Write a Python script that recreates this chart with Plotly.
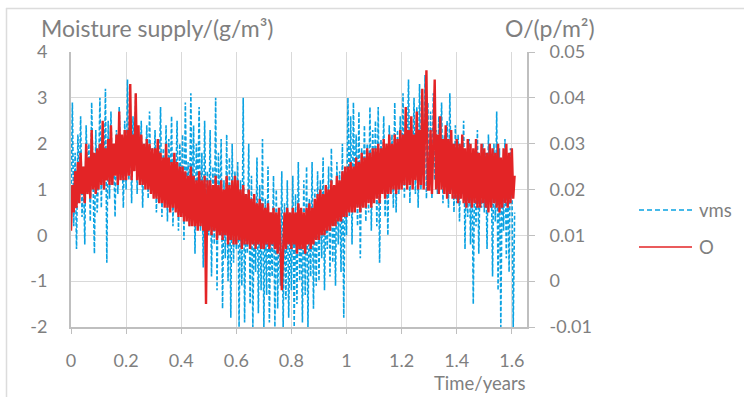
import plotly.graph_objects as go

# Sampling interval of the record (years)
STEP = 0.005

# Moisture supply vms, g/m³ (left axis)
vms = [
    0.6, 2.9, 0.2, 1.8, -0.3, 2.2, 0.9, 2.6, 0.4, 1.5, -0.2, 2.4, 1.0, 2.0, 0.3, 2.9, 1.2, -0.4, 2.3, 0.5,
    1.3, 3.0, 0.6, 2.1, 1.0, 3.2, -0.6, 2.5, 0.8, 2.7, 1.1, 1.8, 0.4, 2.3, 0.9, 2.8, 1.2, 2.0, 0.6, 2.5,
    1.0, 3.4, 1.2, 2.9, 0.7, 2.6, 1.5, 3.1, 0.9, 2.2, 1.3, 2.5, 0.6, 2.0, 1.1, 2.4, 0.8, 2.7, 1.0, 1.9,
    0.9, 2.3, 0.5, 2.0, 1.2, 2.8, 0.4, 1.9, 0.8, 2.4, 0.3, 2.1, 1.0, 2.6, 0.2, 1.7, 0.9, 2.5, 0.1, 2.0,
    0.6, 2.2, -0.1, 2.9, 0.8, 1.6, 0.2, 3.1, 0.5, 2.4, -0.4, 2.0, 0.7, 2.8, 0.1, 1.8, -0.7, 2.5, 0.3, 1.4,
    0.0, 2.3, -0.9, 1.5, -0.2, 3.0, -1.2, 1.8, 0.3, 2.1, -1.6, 1.2, -0.5, 2.2, -1.0, 1.7, -1.8, 2.0, -0.6, 1.4,
    -0.3, 1.6, -2.0, 1.2, -1.1, 3.0, -1.9, 0.9, -0.4, 2.0, -1.5, 1.3, -2.0, 0.6, -0.8, 1.7, -1.7, 1.1, -1.2, 2.1,
    -2.0, 0.8, -1.3, 1.5, -1.9, 0.4, -0.9, 1.3, -2.0, 1.0, -1.6, 0.6, -1.1, 1.4, -2.0, 0.7, -1.4, 1.2, -1.8, 0.3,
    -1.2, 1.3, -2.0, 0.9, -1.5, 1.6, -1.0, 0.5, -1.9, 1.2, -1.3, 1.5, -2.0, 0.8, -0.9, 1.6, -1.6, 1.0, -1.1, 1.4,
    -1.0, 1.2, -0.5, 1.7, -1.2, 0.8, -0.3, 1.5, -0.9, 1.9, -0.6, 1.1, -1.1, 1.6, -0.2, 1.4, -0.8, 2.0, -1.8, 1.3,
    0.0, 3.0, 0.4, 2.6, -0.2, 2.9, 0.6, 2.2, 0.2, 2.7, -0.5, 1.9, 0.7, 2.4, 0.3, 2.0, 0.5, 2.8, 0.1, 2.3,
    0.8, 2.5, 0.2, 2.8, -0.6, 2.1, 0.9, 2.6, 0.4, 1.9, 0.0, 2.4, 1.0, 2.2, 0.6, 2.9, 0.5, 2.3, 0.9, 2.6,
    1.1, 3.1, 0.8, 2.7, 1.3, 3.4, 0.7, 2.5, 1.2, 3.0, 0.9, 2.8, 0.6, 3.3, 1.0, 2.4, 1.4, 3.5, 0.8, 2.9,
    1.0, 2.7, 0.8, 3.1, 1.2, 2.3, 0.9, 2.6, 1.4, 2.9, 0.7, 2.2, 1.1, 2.5, 0.6, 3.1, 1.0, 2.0, 0.5, 2.4,
    0.7, 2.2, 0.3, 1.9, 0.9, 2.5, -0.3, 1.8, 0.4, 2.1, -0.2, 1.7, -1.5, 1.6, 0.2, 2.3, -0.4, 1.5, 0.6, 2.0,
    0.5, 1.8, -0.3, 2.2, 0.8, 1.6, -0.9, 2.0, 0.3, 2.7, -1.2, 1.9, -2.0, 1.4, 0.1, 2.1, -0.5, 1.6, -0.8, 1.9,
    1.3, -2.0, 0.5,
]

# O, p/m² (right axis)
o_vals = [
    0.011, 0.021, 0.015, 0.024, 0.016, 0.026, 0.017, 0.028, 0.019, 0.025, 0.017, 0.030, 0.019, 0.027, 0.018, 0.033, 0.020, 0.028, 0.019, 0.029,
    0.020, 0.030, 0.021, 0.035, 0.020, 0.029, 0.022, 0.031, 0.021, 0.034, 0.021, 0.030, 0.023, 0.032, 0.021, 0.037, 0.022, 0.032, 0.022, 0.033,
    0.022, 0.033, 0.023, 0.043, 0.022, 0.032, 0.024, 0.041, 0.022, 0.034, 0.021, 0.032, 0.021, 0.030, 0.020, 0.031, 0.020, 0.030, 0.019, 0.029,
    0.018, 0.029, 0.018, 0.031, 0.017, 0.028, 0.017, 0.027, 0.016, 0.030, 0.016, 0.027, 0.015, 0.026, 0.016, 0.028, 0.015, 0.026, 0.014, 0.025,
    0.014, 0.025, 0.013, 0.024, 0.013, 0.023, 0.012, 0.025, 0.012, 0.023, 0.012, 0.022, 0.011, 0.024, 0.012, 0.022, 0.011, 0.023, -0.005, 0.022,
    0.011, 0.022, 0.010, 0.021, 0.011, 0.023, 0.009, 0.021, 0.010, 0.022, 0.009, 0.020, 0.010, 0.023, 0.008, 0.021, 0.009, 0.022, 0.008, 0.023,
    0.008, 0.022, 0.009, 0.020, 0.007, 0.021, 0.008, 0.019, 0.008, 0.020, 0.007, 0.018, 0.008, 0.019, 0.007, 0.017, 0.008, 0.018, 0.007, 0.017,
    0.007, 0.016, 0.008, 0.017, 0.007, 0.015, 0.008, 0.016, 0.007, 0.015, 0.006, 0.016, 0.008, -0.002, 0.007, 0.015, 0.007, 0.016, 0.008, 0.015,
    0.007, 0.016, 0.008, 0.015, 0.006, 0.017, 0.007, 0.016, 0.007, 0.015, 0.006, 0.016, 0.008, 0.017, 0.007, 0.016, 0.008, 0.018, 0.009, 0.019,
    0.009, 0.020, 0.010, 0.019, 0.010, 0.021, 0.011, 0.020, 0.011, 0.022, 0.012, 0.021, 0.012, 0.023, 0.013, 0.022, 0.013, 0.024, 0.014, 0.025,
    0.014, 0.025, 0.015, 0.026, 0.015, 0.025, 0.015, 0.027, 0.016, 0.026, 0.015, 0.028, 0.016, 0.027, 0.016, 0.029, 0.017, 0.028, 0.016, 0.029,
    0.017, 0.029, 0.018, 0.030, 0.017, 0.029, 0.019, 0.031, 0.018, 0.030, 0.019, 0.032, 0.019, 0.030, 0.020, 0.032, 0.019, 0.031, 0.020, 0.033,
    0.020, 0.032, 0.021, 0.038, 0.020, 0.033, 0.021, 0.036, 0.020, 0.032, 0.022, 0.037, 0.020, 0.033, 0.021, 0.042, 0.020, 0.034, 0.046, 0.020,
    0.020, 0.033, 0.019, 0.030, 0.044, 0.020, 0.032, 0.019, 0.036, 0.020, 0.031, 0.019, 0.034, 0.018, 0.031, 0.019, 0.033, 0.018, 0.030, 0.018,
    0.031, 0.017, 0.030, 0.018, 0.032, 0.017, 0.029, 0.016, 0.031, 0.017, 0.030, 0.016, 0.029, 0.017, 0.031, 0.016, 0.028, 0.016, 0.030, 0.017,
    0.029, 0.016, 0.028, 0.015, 0.030, 0.016, 0.029, 0.017, 0.028, 0.016, 0.030, 0.015, 0.027, 0.016, 0.029, 0.017, 0.030, 0.016, 0.028, 0.017,
    0.029, 0.018, 0.023,
]

time_years = [round(i * STEP, 3) for i in range(len(vms))]

x_ticks = [0, 0.2, 0.4, 0.6, 0.8, 1.0, 1.2, 1.4, 1.6]
x_tick_text = ["0", "0.2", "0.4", "0.6", "0.8", "1", "1.2", "1.4", "1.6"]
y_ticks = [-2, -1, 0, 1, 2, 3, 4]
y_tick_text = ["-2", "-1", "0", "1", "2", "3", "4"]
y2_ticks = [-0.01, 0, 0.01, 0.02, 0.03, 0.04, 0.05]
y2_tick_text = ["-0.01", "0", "0.01", "0.02", "0.03", "0.04", "0.05"]

BLUE = "#0AA2E2"
RED = "#E32426"
TEXT = "#7F7F7F"
GRID = "#D9D9D9"
AXIS = "#BFBFBF"
FONT = "Lato"

# plot-area geometry in pixels
W, H = 744, 397
L, R, T, B = 71, 527, 52, 327


def px(x):
    return (x - L) / (R - L)


def py(y):
    return (B - y) / (B - T)


fig = go.Figure()
fig.add_trace(go.Scatter(
    x=time_years, y=vms, name="vms", mode="lines",
    line=dict(color=BLUE, width=1.6, dash="4px,2px"),
    yaxis="y",
))
fig.add_trace(go.Scatter(
    x=time_years, y=o_vals, name="O", mode="lines",
    line=dict(color=RED, width=2.4),
    yaxis="y2",
))

fig.update_layout(
    width=W, height=H,
    margin=dict(l=L, r=W - R, t=T, b=H - B),
    paper_bgcolor="white", plot_bgcolor="white",
    showlegend=False,
    font=dict(family=FONT, color=TEXT, size=18),
    xaxis=dict(
        range=[0, 1.655], tickvals=x_ticks, ticktext=x_tick_text,
        showgrid=True, gridcolor=GRID, gridwidth=1,
        showline=True, linecolor=AXIS, linewidth=2,
        ticks="outside", ticklen=5, tickcolor=AXIS, tickwidth=1,
        zeroline=False, ticklabelstandoff=11,
        tickfont=dict(size=18, color=TEXT),
    ),
    yaxis=dict(
        range=[-2, 4], tickvals=y_ticks, ticktext=y_tick_text,
        showgrid=True, gridcolor=GRID, gridwidth=1,
        showline=True, linecolor=AXIS, linewidth=2,
        ticks="", zeroline=False, ticklabelstandoff=18,
        tickfont=dict(size=18, color=TEXT),
    ),
    yaxis2=dict(
        range=[-0.01, 0.05], tickvals=y2_ticks, ticktext=y2_tick_text,
        overlaying="y", side="right",
        showgrid=False, showline=True, linecolor=AXIS, linewidth=2,
        ticks="outside", ticklen=6, tickcolor=AXIS, tickwidth=1,
        zeroline=False, ticklabelstandoff=11,
        tickfont=dict(size=18, color=TEXT),
    ),
)

annotations = [
    dict(text="Moisture supply/(g/m³)", x=px(39), y=py(28), xanchor="left", yanchor="middle",
         font=dict(size=23, color=TEXT, family=FONT)),
    dict(text="O/(p/m²)", x=px(503), y=py(28), xanchor="left", yanchor="middle",
         font=dict(size=23, color=TEXT, family=FONT)),
    dict(text="Time/years", x=px(528), y=py(383), xanchor="right", yanchor="middle",
         font=dict(size=18.5, color=TEXT, family=FONT)),
    dict(text="vms", x=px(697), y=py(210), xanchor="left", yanchor="middle",
         font=dict(size=18.5, color=TEXT, family=FONT)),
    dict(text="O", x=px(697), y=py(247), xanchor="left", yanchor="middle",
         font=dict(size=18.5, color=TEXT, family=FONT)),
]
for a in annotations:
    a.update(xref="paper", yref="paper", showarrow=False)
fig.update_layout(annotations=annotations)

shapes = [
    # legend samples
    dict(type="line", x0=px(639), x1=px(692), y0=py(210), y1=py(210),
         line=dict(color=BLUE, width=1.5, dash="5px,3px")),
    dict(type="line", x0=px(639), x1=px(692), y0=py(247), y1=py(247),
         line=dict(color=RED, width=1.5)),
    # chart-area border
    dict(type="line", x0=px(6), x1=px(760), y0=py(8.5), y1=py(8.5),
         line=dict(color="#DCDCDC", width=1.5)),
    dict(type="line", x0=px(6.5), x1=px(6.5), y0=py(8), y1=py(420),
         line=dict(color="#DCDCDC", width=1.5)),
]
for s in shapes:
    s.update(xref="paper", yref="paper", layer="above")
fig.update_layout(shapes=shapes)

fig.write_html("out.html")
